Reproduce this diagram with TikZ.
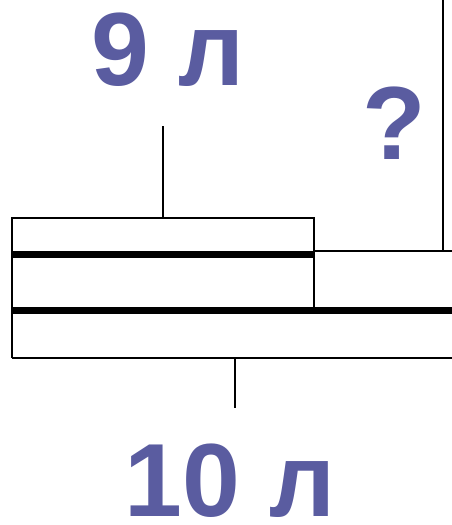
\documentclass[tikz,border=0pt]{standalone}
\usepackage{fontspec}
\setmainfont{Liberation Sans}
\definecolor{lbl}{RGB}{90,92,160}
\newcommand{\dims}{
\def\xl{12}    % left edge of the boxes
\def\xm{314}   % end of the 9 l part
\def\xr{452}   % right edge (cut by the page)
\def\yt{218}   % top of the upper box
\def\ya{254}   % first thick line
\def\yb{310}   % second thick line
\def\yc{358}   % bottom of the lower box
}
\tikzset{
  lbltxt/.style={inner sep=0pt, text=lbl, font=\fontsize{104}{104}\selectfont\bfseries},
  thin/.style={line width=2pt},
  thickbar/.style={line width=7pt}
}

\begin{document}
\begin{tikzpicture}[x=1pt,y=-1pt]
      \dims
      \useasboundingbox (0,0) rectangle (452,525);
%
      \draw[thin] (\xl,\yc) -- (\xl,\yt) -- (\xm,\yt) -- (\xm,\yb);
      \draw[thin] (\xl,\yc) -- (\xr,\yc);
      \draw[thin] (\xm,251) -- (\xr,251);
      \draw[thickbar] (\xl,\ya) -- (\xm,\ya);
      \draw[thickbar] (\xl,\yb) -- (\xr,\yb);
%
      \coordinate (qt) at (443,0);
      \coordinate (qb) at (443,251);
      \draw[thin] (qt) -- (qb);
%
      \coordinate (t9) at (163,126);
      \coordinate (b9) at (163,\yt);
      \draw[thin] (t9) -- (b9);
      \coordinate (t10) at (235,\yc);
      \coordinate (b10) at (235,408);
      \draw[thin] (t10) -- (b10);
%
      \node[lbltxt] (nine) at (168,50) {9 л};
      \node[lbltxt] (quest) at (394,123) {?};
      \node[lbltxt] (ten) at (230,481) {10 л};
    \end{tikzpicture}
\end{document}
